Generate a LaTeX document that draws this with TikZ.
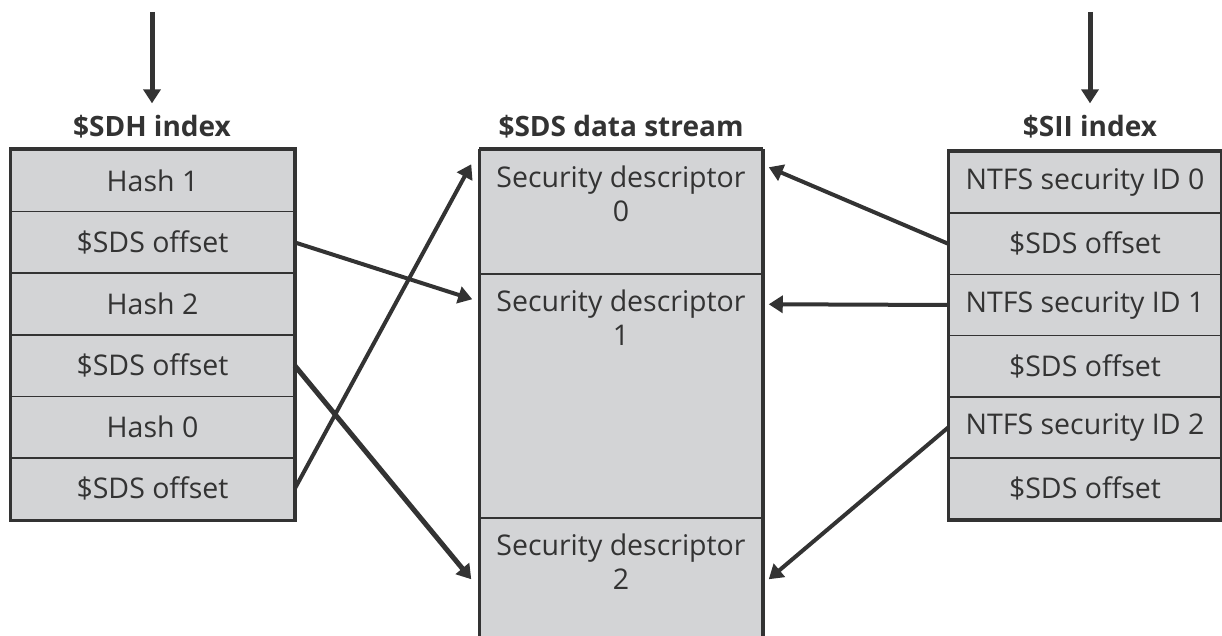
\documentclass[tikz,border=0pt]{standalone}
\usepackage{fontspec}
\setmainfont{Open Sans}
\usetikzlibrary{arrows.meta,calc}
\definecolor{cellfill}{HTML}{D3D4D6}
\definecolor{ink}{HTML}{333333}
\begin{document}
\begin{tikzpicture}[x=1pt,y=-1pt,
  cell/.style={draw=ink,line width=1.5pt,fill=cellfill,rectangle,inner sep=0pt,
    text=ink,font=\fontsize{28.5}{34}\selectfont},
  title/.style={font=\fontsize{28}{34}\selectfont\bfseries,text=ink,inner sep=0pt},
  frame/.style={draw=ink,line width=3.5pt},
  link/.style={draw=ink,line width=4pt,-{Triangle[length=14pt,width=17pt]}}]
\useasboundingbox (0,0) rectangle (1222,636);
% left index
\foreach \i/\t in {1/Hash 1,2/\$SDS offset,3/Hash 2,4/\$SDS offset,5/Hash 0,6/\$SDS offset}{
  \node[cell,minimum width=283pt,minimum height=61.6pt] (L\i) at (152.5,{150+(\i-0.5)*61.6}) {\t};
}
\draw[frame] (L1.north west) rectangle (L6.south east);
% right index
\foreach \i/\t in {1/NTFS security ID 0,2/\$SDS offset,3/NTFS security ID 1,4/\$SDS offset,5/NTFS security ID 2,6/\$SDS offset}{
  \node[cell,minimum width=272pt,minimum height=61.2pt] (R\i) at (1085,{152+(\i-0.5)*61.2}) {\t};
}
\draw[frame] (R1.north west) rectangle (R6.south east);
% middle stream
\node[cell,minimum width=282pt,minimum height=124pt] (S0) at (621,212) {};
\node[cell,minimum width=282pt,minimum height=244pt] (S1) at (621,396) {};
\node[cell,minimum width=282pt,minimum height=140pt] (S2) at (621,588) {};
\draw[frame] (S0.north west) -- (S2.south west) (S0.north east) -- (S2.south east) (S0.north west) -- (S0.north east);
\foreach \s/\n in {S0/0,S1/1,S2/2}{
  \node[text=ink,font=\fontsize{28.5}{34}\selectfont,align=center,anchor=north,inner sep=0pt] (\s t) at ($(\s.north)+(0,16)$) {Security descriptor\\\n};
}
% titles
\node[title] (tL) at (152,127) {\$SDH index};
\node[title] (tS) at (621,127) {\$SDS data stream};
\node[title] (tR) at (1090,127) {\$SII index};
% top arrows
\coordinate (aL) at (152,12);
\coordinate (aR) at (1090,12);
\draw[link,line width=5pt] (aL) -- ($(tL.north)+(0,-12)$);
\draw[link,line width=5pt] (aR) -- ($(tR.north)+(0,-12)$);
% links
\draw[link] (L2.east) -- ($(S1.north west)+(-7,26)$);
\draw[link,line width=5pt] (L4.east) -- ($(S2.north west)+(-8,62)$);
\draw[link] (L6.east) -- ($(S0.north west)+(-8,15)$);
\draw[link] (R2.west) -- ($(S0.north east)+(6,18)$);
\draw[link] (R3.west) -- ($(S1.north east)+(6,31)$);
\draw[link] (R5.west) -- ($(S2.north east)+(6,62)$);
\end{tikzpicture}
\end{document}
